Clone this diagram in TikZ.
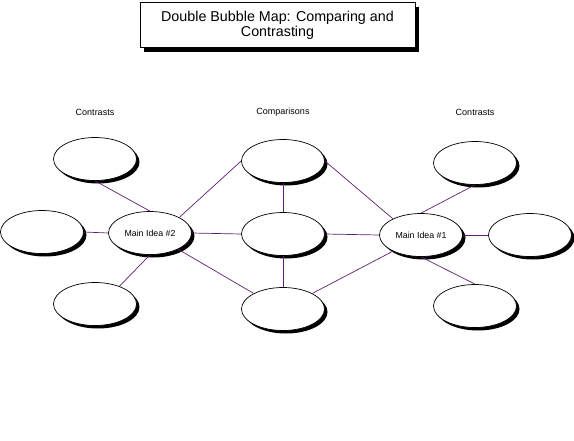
\documentclass[tikz,border=0pt]{standalone}
\usepackage{fontspec}
\setmainfont{Liberation Sans}
\usetikzlibrary{shapes.geometric,shadows}
\definecolor{linkpurple}{RGB}{96,32,112}
\tikzset{
  bubble/.style={ellipse, draw=black, line width=0.7pt, fill=white, inner sep=0pt,
    minimum width=83pt, minimum height=43pt, font=\fontsize{8.8}{10}\selectfont,
    general shadow={shadow xshift=3pt, shadow yshift=-3pt, fill=black}},
  link/.style={draw=linkpurple, line width=0.7pt},
  heading/.style={font=\fontsize{9}{10}\selectfont}
}
\begin{document}
\begin{tikzpicture}[x=1pt,y=-1pt]
  \useasboundingbox (0,0) rectangle (574,440);
  % title
  \node[draw=black, line width=0.9pt, fill=white, minimum width=275pt, minimum height=45pt,
    align=center, font=\fontsize{14.3}{15}\selectfont,
    general shadow={shadow xshift=4pt, shadow yshift=-4pt, fill=black}]
    (title) at (277.5,25) {Double Bubble Map: Comparing and\\Contrasting};

  \node[heading] (contrastsB) at (95,112) {Contrasts};
  \node[heading] (comparisons) at (283,112) {Comparisons};
  \node[heading] (contrastsA) at (475,112) {Contrasts};

  % left side
  \node[bubble] (leftTop) at (95,159) {};
  \node[bubble] (leftMid) at (42,232) {};
  \node[bubble] (leftBot) at (95,304) {};
  \node[bubble] (ideaB) at (150,233) {Main Idea \#2};

  % comparisons
  \node[bubble] (midTop) at (283,161) {};
  \node[bubble] (midMid) at (283,234) {};
  \node[bubble] (midBot) at (283,309) {};

  % right side
  \node[bubble] (ideaA) at (421,235) {Main Idea \#1};
  \node[bubble] (rightTop) at (475,163) {};
  \node[bubble] (rightMid) at (530,235) {};
  \node[bubble] (rightBot) at (475,306) {};

  \draw[link] (leftTop.south) -- (ideaB.north);
  \draw[link] (leftMid.east) -- (ideaB.west);
  \draw[link] (leftBot.36) -- (ideaB.south);
  \draw[link] (ideaB.28) -- (midTop.west);
  \draw[link] (ideaB.east) -- (midMid.west);
  \draw[link] (ideaB.-30) -- (midBot.152);

  \draw[link] (midTop.east) -- (ideaA.150);
  \draw[link] (midMid.east) -- (ideaA.west);
  \draw[link] (midBot.28) -- (ideaA.210);
  \draw[link] (ideaA.north) -- (rightTop.south);
  \draw[link] (ideaA.east) -- (rightMid.west);
  \draw[link] (ideaA.south) -- (rightBot.north);

  \draw[link] (midTop.south) -- (midMid.north);
  \draw[link] (midMid.south) -- (midBot.north);
\end{tikzpicture}
\end{document}
